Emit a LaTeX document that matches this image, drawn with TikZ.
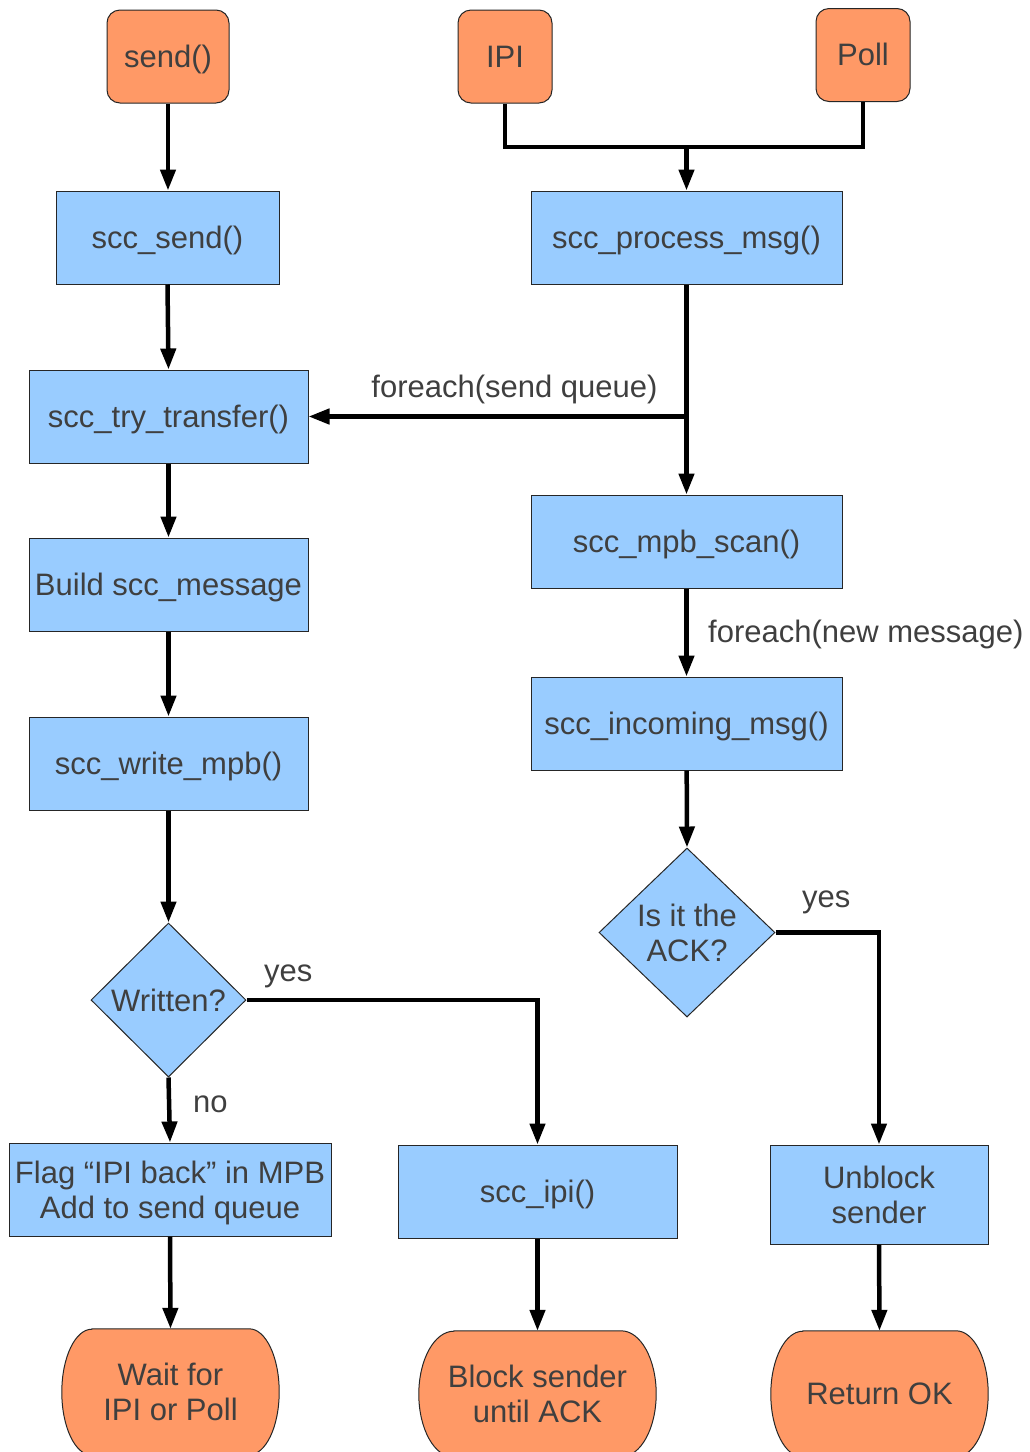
\documentclass[tikz,border=0pt]{standalone}
\usepackage{fontspec}
\setmainfont{Liberation Sans}
\usetikzlibrary{arrows.meta,shapes.geometric,backgrounds}

\definecolor{boxblue}{HTML}{99CCFF}
\definecolor{boxorange}{HTML}{FF9966}
\definecolor{txt}{HTML}{3F3F3F}
\newcommand\diagfont{\fontsize{31}{35}\selectfont}
% full line box (ascent + descent) so that one-line text sits at the same height in every box
\newcommand\linestrut{\rule[-6.6pt]{0pt}{34.6pt}}
% text whose descenders do not count for centring
\newcommand\nodepth[1]{\raisebox{0pt}[\height][0pt]{#1}}

\tikzset{
  boxtext/.style={text=txt, font=\diagfont, align=center},
  strutted/.style={execute at begin node=\linestrut, execute at end node=\linestrut},
  panel/.style={boxtext, draw=black!85, line width=1pt, fill=boxblue, minimum height=93pt,
    inner sep=0pt},
  box/.style={panel, strutted},
  startbox/.style={box, fill=boxorange, rounded corners=13pt, minimum width=94pt},
  decision/.style={boxtext, diamond, draw=black!85, line width=1pt, fill=boxblue, inner sep=0pt},
  termnode/.style={boxtext, inner sep=0pt, minimum height=126pt},
  termshape/.style={draw=black!85, line width=1pt, fill=boxorange},
  wire/.style={line width=4.5pt, draw=black},
  flow/.style={wire, -{Triangle[length=21pt,width=15pt]}},
  lbl/.style={inner sep=0pt, text=txt, font=\diagfont}
}

% flat top and bottom, elliptical ends
\newcommand\capsule[2]{%
  \begin{scope}[on background layer]
    \path[termshape] ([xshift=#2]#1.north west) -- ([xshift=-#2]#1.north east)
      arc[start angle=90, end angle=-90, x radius=#2, y radius=63pt]
      -- ([xshift=#2]#1.south west)
      arc[start angle=270, end angle=90, x radius=#2, y radius=63pt] -- cycle;
  \end{scope}}

\begin{document}
\begin{tikzpicture}[x=1pt, y=-1pt]
\useasboundingbox (0,0) rectangle (1029,1452);

% entry points
\node[startbox, minimum width=122pt] (send) at (168,56.5) {send()};
\node[startbox] (ipi) at (505,56.5) {IPI};
\node[startbox] (poll) at (863,55) {Poll};

% sending side
\node[box, minimum width=223pt] (sccsend) at (167.5,237.5) {scc\_send()};
\node[box, minimum width=279pt] (trytx) at (168.5,416.5) {scc\_try\_transfer()};
\node[box, minimum width=279pt] (build) at (168.5,584.5) {Build scc\_message};
\node[box, minimum width=279pt] (writempb) at (168.5,763.5) {scc\_write\_mpb()};
\node[decision, minimum width=155pt, minimum height=154pt] (written) at (168.5,1000) {Written?};
\node[panel, minimum width=322pt] (flag) at (170,1189.5) {Flag “IPI back” in MPB\\\nodepth{Add to send queue}};
\node[box, minimum width=279pt] (sccipi) at (537.5,1191.5) {scc\_ipi()};

% receiving side
\node[box, minimum width=311pt] (procmsg) at (686.5,237.5) {scc\_process\_msg()};
\node[box, minimum width=311pt] (mpbscan) at (686.5,541.5) {scc\_mpb\_scan()};
\node[box, minimum width=311pt] (incoming) at (686.5,723.5) {scc\_incoming\_msg()};
\node[decision, minimum width=176pt, minimum height=169pt] (isack) at (687,932.5) {Is it the\\ACK?};
\node[panel, minimum width=218pt, minimum height=99pt] (unblock) at (879,1194.5) {Unblock\\sender};

% end states
\node[termnode, minimum width=217pt] (wait) at (170.5,1392) {Wait for\\IPI or Poll};
\capsule{wait}{30pt}
\node[termnode, minimum width=237pt] (block) at (537.5,1394) {Block sender\\until ACK};
\capsule{block}{35pt}
\node[termnode, minimum width=217pt] (retok) at (879.5,1394) {Return OK};
\capsule{retok}{32pt}

% labels
\node[lbl, anchor=base] (lsendq) at (514.5,397) {foreach(send queue)};
\node[lbl, anchor=base west] (lnewmsg) at (708,642) {foreach(new message)};
\node[lbl, anchor=base west] (lyes1) at (264,981) {yes};
\node[lbl, anchor=base west] (lno) at (193,1112) {no};
\node[lbl, anchor=base west] (lyes2) at (802,907) {yes};

% connectors
\coordinate (join) at (686.5,147);
\coordinate (fork) at (686.5,416.5);
\draw[flow] (send.south) -- (send.south |- sccsend.north);
\draw[wire] (ipi.south) |- (join) -| (poll.south);
\draw[flow] (join) -- (procmsg.north);
\draw[flow] (sccsend.south) -- (trytx.north);
\draw[flow] (procmsg.south) -- (mpbscan.north);
\draw[flow] (fork) -- (trytx.east);
\draw[flow] (trytx) -- (build);
\draw[flow] (build) -- (writempb);
\draw[flow] (writempb) -- (written.north);
\draw[flow] (written.south) -- (flag.north);
\draw[flow] (written.east) -| (sccipi.north);
\draw[flow] (mpbscan) -- (incoming);
\draw[flow] (incoming) -- (isack.north);
\draw[flow] (isack.east) -| (unblock.north);
\draw[flow] (flag.south) -- (wait.north);
\draw[flow] (sccipi.south) -- (block.north);
\draw[flow] (unblock.south) -- (retok.north);
\end{tikzpicture}
\end{document}
